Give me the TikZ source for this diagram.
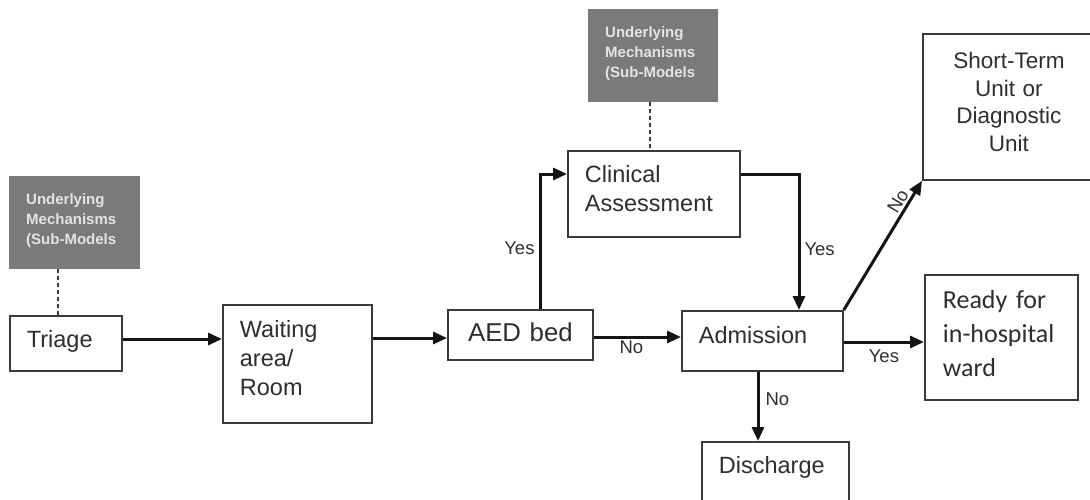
\documentclass[tikz,border=0pt]{standalone}
\usepackage{fontspec}
\setmainfont{Liberation Sans}
\newfontfamily\calibrifont{Carlito}
\usetikzlibrary{arrows.meta}

\definecolor{inkgray}{HTML}{2E2E2E}
\definecolor{framegray}{HTML}{3A3A3A}
\definecolor{subfill}{HTML}{7A7A7A}
\definecolor{subtext}{HTML}{E4E4E4}

\tikzset{
  stagebox/.style={draw=framegray, line width=1.8pt, fill=white, text=inkgray,
    anchor=north west, inner xsep=17pt, inner ysep=0pt, align=left,
    font=\fontsize{23.5}{28.5}\selectfont},
  subbox/.style={fill=subfill, text=subtext, anchor=north west, inner xsep=17pt,
    inner ysep=0pt, align=left, font=\fontsize{15}{20}\selectfont\bfseries},
  flow/.style={line width=3pt, draw=black!92, -{Triangle[length=14pt,width=12pt]}},
  link/.style={line width=1.3pt, draw=framegray, dash pattern=on 4pt off 3pt},
  tag/.style={text=inkgray, inner sep=2pt, font=\fontsize{18.5}{22}\selectfont},
}

\begin{document}
\begin{tikzpicture}[x=1pt, y=-1pt]
  \useasboundingbox (0,0) rectangle (1090,499);
  \clip (0,0) rectangle (1090,499);

  % sub-model panels (text set towards the top)
  \node[subbox, minimum width=131pt, minimum height=93pt, text width=97pt] (subA) at (9,176)
    {Underlying\\Mechanisms\\(Sub-Models\\[-12pt]\mbox{}};
  \node[subbox, minimum width=130pt, minimum height=93pt, text width=96pt] (subB) at (588,9)
    {Underlying\\Mechanisms\\(Sub-Models\\[-12pt]\mbox{}};

  % process stages
  \node[stagebox, minimum width=112pt, text width=78pt, text height=32pt, text depth=23pt] (triage) at (9,315) {Triage};
  \node[stagebox, minimum width=149pt, minimum height=118pt, text width=115pt,
        font=\fontsize{23.5}{29}\selectfont] (waiting) at (222,304) {Waiting\\area/\\Room\\[-18pt]\mbox{}};
  \node[stagebox, minimum width=145pt, text width=111pt, align=center, text height=32pt, text depth=18pt,
        font=\fontsize{25.8}{30}\selectfont] (aed) at (447,309) {AED bed};
  \node[stagebox, minimum width=172pt, minimum height=86pt, text width=138pt] (clinical) at (567,150)
    {Clinical\\Assessment\\[-18pt]\mbox{}};
  \node[stagebox, minimum width=161pt, text width=127pt, text height=33pt, text depth=27pt] (admission) at (681,310) {Admission};
  \node[stagebox, minimum width=147pt, text width=113pt, text height=32pt, text depth=40pt] (discharge) at (701,441) {Discharge};
  \node[stagebox, minimum width=172pt, minimum height=146pt, text width=138pt, align=center,
        font=\fontsize{22.5}{27.5}\selectfont] (shortterm) at (922,33) {Short-Term\\Unit or\\Diagnostic\\Unit\\[-17.5pt]\mbox{}};
  \node[stagebox, minimum width=153pt, minimum height=125pt, text width=117pt,
        font=\calibrifont\fontsize{26}{34}\selectfont] (ready) at (924,274) {Ready for\\in-hospital\\ward\\[-26.6pt]\mbox{}};

  % connector rows and columns
  \coordinate (rowA) at (0,339);
  \coordinate (rowB) at (0,338);
  \coordinate (rowC) at (0,337);
  \coordinate (rowD) at (0,342);
  \coordinate (riseX) at (540,174);
  \coordinate (dropX) at (799,174);
  \coordinate (downX) at (758,0);
  \coordinate (tieA) at (58,0);
  \coordinate (tieB) at (650,0);

  % flow
  \draw[flow] (triage.east |- rowA) -- (waiting.west |- rowA);
  \draw[flow] (waiting.east |- rowB) -- (aed.west |- rowB);
  \draw[flow] (aed.east |- rowC) -- node[tag, below, xshift=-6pt] (noA) {No} (admission.west |- rowC);
  \draw[flow] (aed.north -| riseX) -- node[tag, left, pos=0.45, xshift=-2pt] (yesA) {Yes} (riseX) -- (clinical.west |- riseX);
  \draw[flow] (clinical.east |- dropX) -- (dropX) -- node[tag, right, pos=0.55, xshift=2pt] (yesB) {Yes} (dropX |- admission.north);
  \draw[flow] (admission.north east) -- node[tag, sloped, above, pos=0.8] (noB) {No} (shortterm.south west);
  \draw[flow] (admission.east |- rowD) -- node[tag, below, yshift=-4pt] (yesC) {Yes} (ready.west |- rowD);
  \draw[flow] (admission.south -| downX) -- node[tag, right, pos=0.4, xshift=4pt] (noC) {No} (discharge.north -| downX);

  % ties to the sub-models
  \draw[link] (subA.south -| tieA) -- (triage.north -| tieA);
  \draw[link] (subB.south -| tieB) -- (clinical.north -| tieB);
\end{tikzpicture}
\end{document}
